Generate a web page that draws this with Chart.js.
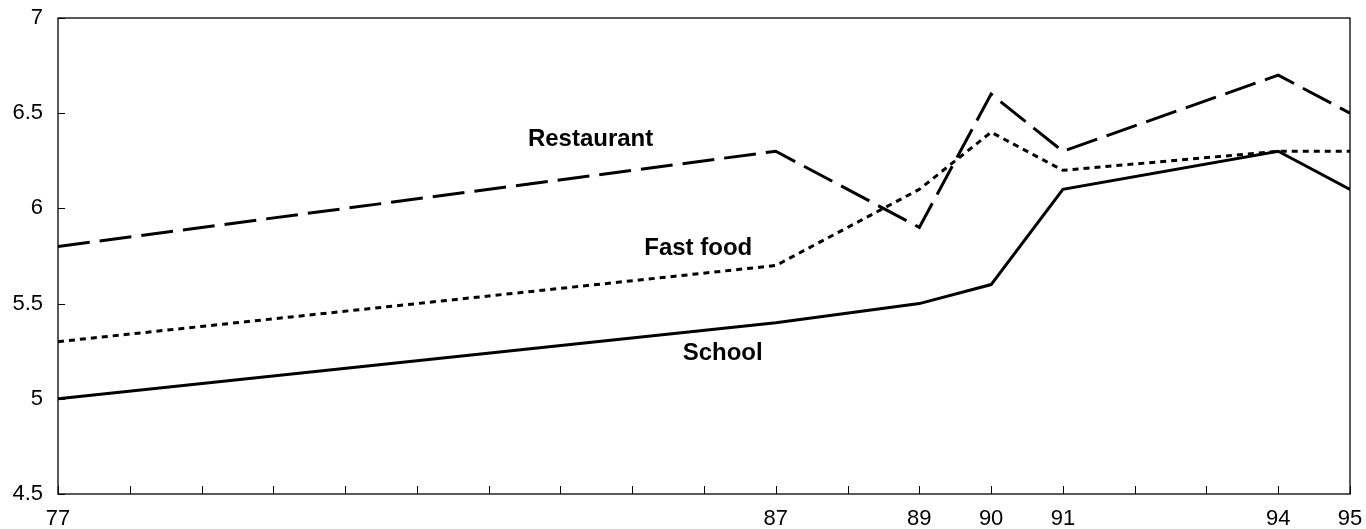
<!DOCTYPE html>
<html><head><meta charset="utf-8">
<script src="https://cdn.jsdelivr.net/npm/chart.js@4/dist/chart.umd.min.js"></script>
<style>html,body{margin:0;padding:0;background:#fff;overflow:hidden}#wrap{width:1366px;height:529px}</style>
</head><body><div id="wrap"><canvas id="c" width="1366" height="529"></canvas></div>
<script>
const years = [77, 87, 89, 90, 91, 94, 95];
const school = [5.0, 5.4, 5.5, 5.6, 6.1, 6.3, 6.1];
const fastFood = [5.3, 5.7, 6.1, 6.4, 6.2, 6.3, 6.3];
const restaurant = [5.8, 6.3, 5.9, 6.6, 6.3, 6.7, 6.5];
const xTickLabels = [77, 87, 89, 90, 91, 94, 95];
const yTickValues = [4.5, 5, 5.5, 6, 6.5, 7];
const seriesNames = ['Restaurant', 'Fast food', 'School'];
// label anchors in data coordinates (x year, y value)
const labelAnchors = [[84.42, 6.36], [85.92, 5.79], [86.26, 5.24]];

const FONT = '"Liberation Sans", Arial, Helvetica, sans-serif';
const toPts = (vals) => years.map((y, i) => ({x: y, y: vals[i]}));

const framePlugin = {
  id: 'frame',
  beforeDatasetsDraw(chart) {
    const {ctx, chartArea: a, scales} = chart;
    ctx.save();
    ctx.strokeStyle = '#000';
    ctx.lineWidth = 1.3;
    ctx.strokeRect(a.left, a.top, a.right - a.left, a.bottom - a.top);
    ctx.lineWidth = 1;
    ctx.beginPath();
    scales.x.ticks.forEach(t => {
      const px = Math.round(scales.x.getPixelForValue(t.value)) + 0.5;
      ctx.moveTo(px, a.bottom);
      ctx.lineTo(px, a.bottom - 8);
    });
    yTickValues.forEach(v => {
      const py = Math.round(scales.y.getPixelForValue(v)) + 0.5;
      ctx.moveTo(a.left, py);
      ctx.lineTo(a.left + 7, py);
    });
    ctx.stroke();
    ctx.restore();
  },
  afterDatasetsDraw(chart) {
    const {ctx, scales} = chart;
    ctx.save();
    ctx.fillStyle = '#000';
    ctx.font = 'bold 24px ' + FONT;
    ctx.textAlign = 'center';
    ctx.textBaseline = 'middle';
    seriesNames.forEach((n, i) => {
      ctx.fillText(n, scales.x.getPixelForValue(labelAnchors[i][0]), scales.y.getPixelForValue(labelAnchors[i][1]));
    });
    ctx.restore();
  }
};

new Chart(document.getElementById('c'), {
  type: 'line',
  data: {
    datasets: [
      {label: seriesNames[0], data: toPts(restaurant), borderColor: '#000', borderWidth: 3, borderDash: [32, 10], pointRadius: 0, tension: 0, fill: false},
      {label: seriesNames[1], data: toPts(fastFood), borderColor: '#000', borderWidth: 3, borderDash: [6, 5], pointRadius: 0, tension: 0, fill: false},
      {label: seriesNames[2], data: toPts(school), borderColor: '#000', borderWidth: 3, pointRadius: 0, tension: 0, fill: false}
    ]
  },
  options: {
    responsive: false,
    animation: false,
    devicePixelRatio: 1,
    layout: {padding: {left: 0, right: 16, top: 18, bottom: 0}},
    plugins: {legend: {display: false}, tooltip: {enabled: false}},
    scales: {
      x: {
        type: 'linear', min: 77, max: 95,
        grid: {display: false, drawTicks: false},
        border: {display: false},
        ticks: {
          stepSize: 1, autoSkip: false, maxRotation: 0, padding: 12,
          color: '#000', font: {family: FONT, size: 22},
          callback: (v) => xTickLabels.includes(v) ? String(v) : ''
        },
        afterFit: (s) => { s.height = 35; s.paddingLeft = 0; s.paddingRight = 0; }
      },
      y: {
        type: 'linear', min: 4.5, max: 7,
        grid: {display: false, drawTicks: false},
        border: {display: false},
        ticks: {
          stepSize: 0.5, padding: 15, color: '#000', font: {family: FONT, size: 22},
          callback: (v) => yTickValues.includes(v) ? String(v) : ''
        },
        afterFit: (s) => { s.width = 58; s.paddingTop = 0; s.paddingBottom = 0; }
      }
    }
  },
  plugins: [framePlugin]
});
</script>
</body></html>
